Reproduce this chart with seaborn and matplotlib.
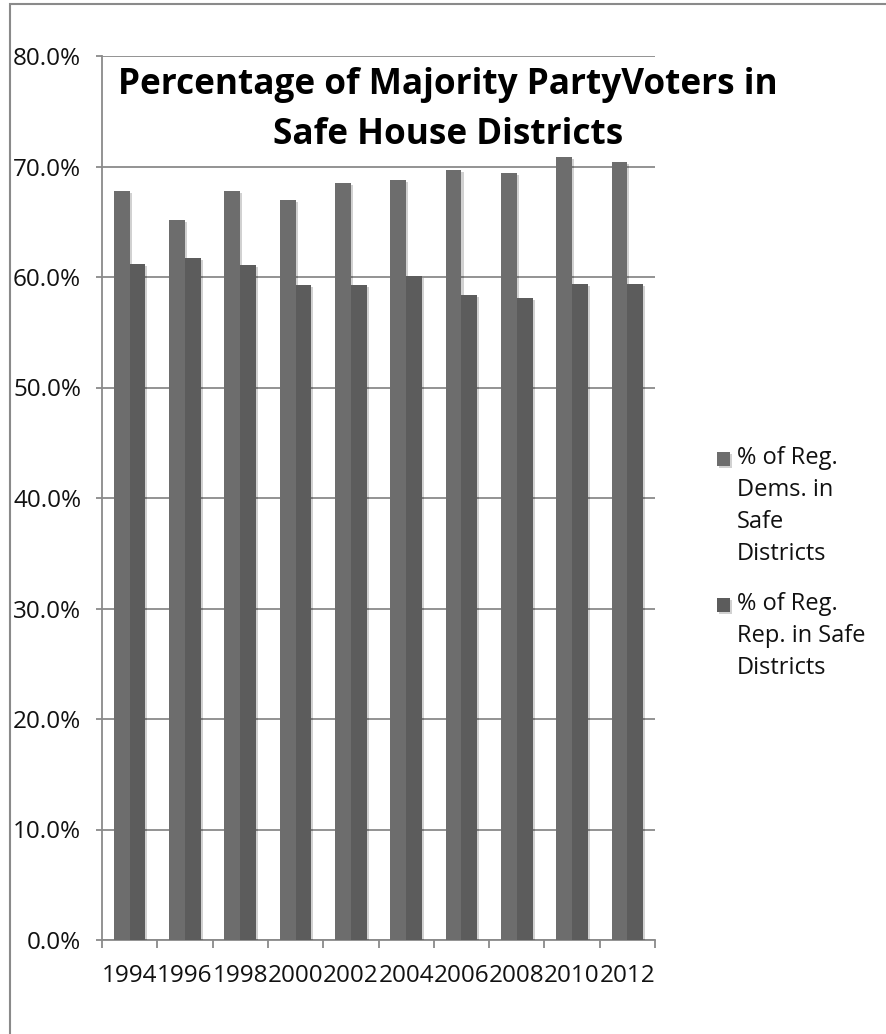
import matplotlib
matplotlib.use("Agg")
import matplotlib.pyplot as plt
import matplotlib.patheffects as pe
from matplotlib.patches import Rectangle
from matplotlib.ticker import FixedLocator, PercentFormatter
import pandas as pd
import seaborn as sns

years = ["1994", "1996", "1998", "2000", "2002", "2004", "2006", "2008", "2010", "2012"]
dem_share = [67.8, 65.2, 67.8, 67.0, 68.5, 68.8, 69.7, 69.4, 70.9, 70.4]
rep_share = [61.2, 61.7, 61.1, 59.3, 59.3, 60.1, 58.4, 58.1, 59.4, 59.4]
series_labels = ["% of Reg.\nDems. in\nSafe\nDistricts",
                 "% of Reg.\nRep. in Safe\nDistricts"]
title_text = "Percentage of Majority PartyVoters in\nSafe House Districts"

df = pd.DataFrame({
    "year": years * 2,
    "share": [v / 100 for v in dem_share] + [v / 100 for v in rep_share],
    "series": [series_labels[0]] * len(years) + [series_labels[1]] * len(years),
})

sns.set_style("white")
plt.rcParams["font.family"] = ["Open Sans", "DejaVu Sans"]

DPI = 100
W, H = 886, 1034
fig = plt.figure(figsize=(W / DPI, H / DPI), dpi=DPI)
ax = fig.add_axes([102 / W, 1 - 940 / H, (655 - 102) / W, (940 - 56) / H])

grid_gray = "#8a8a8a"
palette = ["#6d6d6d", "#5c5c5c"]
label_size = 17.5

sns.barplot(data=df, x="year", y="share", hue="series", palette=palette,
            saturation=1, width=0.57, gap=0, dodge=True, ax=ax,
            edgecolor="none", linewidth=0, zorder=3)

shadow = [pe.SimplePatchShadow(offset=(1.5, -1.5), shadow_rgbFace="#000000", alpha=0.18),
          pe.Normal()]
for bar in ax.patches:
    bar.set_path_effects(shadow)

ax.set_ylim(0, 0.8)
ax.set_xlim(-0.5, len(years) - 0.5)
ax.yaxis.set_major_locator(FixedLocator([i / 10 for i in range(9)]))
ax.yaxis.set_major_formatter(PercentFormatter(xmax=1, decimals=1))
ax.set_xlabel("")
ax.set_ylabel("")

ax.grid(axis="y", color=grid_gray, linewidth=1.3, zorder=0)
ax.set_axisbelow(True)
for side in ["top", "right"]:
    ax.spines[side].set_visible(False)
for side in ["left", "bottom"]:
    ax.spines[side].set_color(grid_gray)
    ax.spines[side].set_linewidth(1.3)

ax.tick_params(axis="y", which="major", direction="out", length=4, width=1.3,
               color=grid_gray, pad=11, labelsize=label_size, labelcolor="#111111", left=True)
ax.tick_params(axis="x", which="major", length=0, pad=17, labelsize=label_size,
               labelcolor="#111111")
ax.xaxis.set_minor_locator(FixedLocator([i - 0.5 for i in range(len(years) + 1)]))
ax.tick_params(axis="x", which="minor", direction="out", length=6, width=1.3,
               color=grid_gray, bottom=True)

fig.text(448 / W, 1 - 110 / H, title_text, ha="center", va="center",
         fontsize=25.3, fontweight="bold", color="#000000", linespacing=1.52)

handles, labels = ax.get_legend_handles_labels()
if ax.get_legend() is not None:
    ax.get_legend().remove()
leg = fig.legend(handles, labels, loc="upper left",
                 bbox_to_anchor=(717 / W, 1 - 446 / H), frameon=False,
                 fontsize=17, handlelength=0.55, handleheight=0.55,
                 handletextpad=0.3, labelspacing=1.1, borderpad=0, borderaxespad=0)
for t in leg.get_texts():
    t.set_linespacing(1.45)
    t.set_color("#111111")

# lift each square so it sits beside the first line of its label
fig.canvas.draw()
renderer = fig.canvas.get_renderer()
probe = fig.text(0, 0, "Dg", fontsize=17)
one_line_h = probe.get_window_extent(renderer).height
probe.remove()
for t, h in zip(leg.get_texts(), leg.legend_handles):
    bb = t.get_window_extent(renderer)
    shift_px = bb.height / 2 - one_line_h / 2
    h.set_y(h.get_y() + shift_px * 72 / DPI)

# chart-area frame
fig.patches.append(Rectangle((10 / W, -0.05), 1.2, 1 - 4 / H + 0.05,
                             transform=fig.transFigure, fill=False,
                             edgecolor=grid_gray, linewidth=1.5))

fig.savefig("out.png", dpi=DPI)
